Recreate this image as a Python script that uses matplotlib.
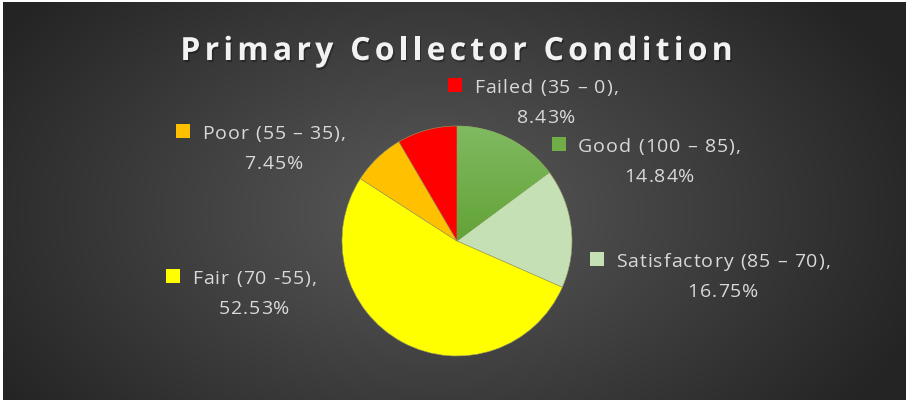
import numpy as np
import matplotlib
matplotlib.use("Agg")
import matplotlib.pyplot as plt
from matplotlib.patches import Rectangle
import matplotlib.patheffects as pe

# ---- data ----
categories = ["Good (100 – 85)", "Satisfactory (85 – 70)", "Fair (70 -55)",
              "Poor (55 – 35)", "Failed (35 – 0)"]
values = [14.84, 16.75, 52.53, 7.45, 8.43]
colors = ["#70AD47", "#C5E0B4", "#FFFF00", "#FFC000", "#FF0000"]
title = "Primary Collector Condition"

# label block positions: (legend square left x, first-line baseline y) in pixels
label_pos = [(552, 152), (590, 267), (166, 284), (176, 139), (448, 93)]

W, H = 909, 404
fig = plt.figure(figsize=(W / 100, H / 100), dpi=100, facecolor="white")

def fx(x):
    return x / W

def fy(y):
    return 1 - y / H

# background with radial gradient
bg = fig.add_axes([fx(3), fy(400), fx(906) - fx(3), fy(2) - fy(400)])
bg.set_axis_off()
yy, xx = np.mgrid[0:398, 0:903]
cx, cy = 430, 210
d = np.sqrt(((xx - cx) / 520.0) ** 2 + ((yy - cy) / 330.0) ** 2)
d = np.clip(d, 0, 1)
c0, c1 = np.array([0x5a, 0x5a, 0x5a]) / 255, np.array([0x24, 0x24, 0x24]) / 255
img = c0[None, None, :] * (1 - d[..., None]) + c1[None, None, :] * d[..., None]
bg.imshow(img, aspect="auto", extent=[0, 1, 0, 1])
bg.set_xlim(0, 1)
bg.set_ylim(0, 1)

# pie
cxp, cyp, r = 457, 241, 115
ax = fig.add_axes([fx(cxp - r), fy(cyp + r), 2 * r / W, 2 * r / H])
ax.set_axis_off()
wedges, _ = ax.pie(values, colors=colors, startangle=90, counterclock=False,
                   radius=1, wedgeprops=dict(edgecolor="#9a9a60", linewidth=0.4))
ax.set_aspect("auto")
# gradient on the green slice
grad = np.linspace(0, 1, 256)[:, None]
top = np.array([0x80, 0xBA, 0x62]) / 255
bot = np.array([0x62, 0xA3, 0x36]) / 255
gimg = top[None, None, :] * (1 - grad[..., None]) + bot[None, None, :] * grad[..., None]
gimg = np.repeat(gimg, 4, axis=1)
im = ax.imshow(gimg, extent=[0, 1, 0, 1], aspect="auto", zorder=wedges[0].get_zorder() + 0.1)
im.set_clip_path(wedges[0])
ax.set_xlim(-1, 1)
ax.set_ylim(-1, 1)

fig.canvas.draw()
renderer = fig.canvas.get_renderer()

def _w(s, **kw):
    t = fig.text(0, 0, s, **kw)
    w = t.get_window_extent(renderer).width
    t.remove()
    return w

def spaced_text(x, y, s, spacing, align="left", **kw):
    """draw text with extra letter spacing (pixels); returns (left, right)"""
    sp = _w("a a", **kw) - _w("aa", **kw)
    widths = [sp if ch == " " else _w(ch, **kw) for ch in s]
    total = sum(widths) + spacing * (len(s) - 1)
    x0 = x - total / 2 if align == "center" else x
    xc = x0
    for ch, w in zip(s, widths):
        if ch != " ":
            fig.text(fx(xc), fy(y), ch, ha="left", va="baseline", **kw)
        xc += w + spacing
    return x0, x0 + total

# title
spaced_text(456.5, 60, title, 4.2, align="center", color="#F2F2F2", fontsize=23,
            fontweight="bold", family="Open Sans",
            path_effects=[pe.withSimplePatchShadow(offset=(1, -1.5), shadow_rgbFace="black", alpha=0.3)])

# labels
lab_col = "#D9D9D9"
lab_kw = dict(color=lab_col, fontsize=14, family="Open Sans")
sq = 14
for cat, val, col, (lx, ly) in zip(categories, values, colors, label_pos):
    fig.patches.append(Rectangle((fx(lx), fy(ly - 1)), sq / W, sq / H,
                                 transform=fig.transFigure, facecolor=col,
                                 edgecolor="none", figure=fig))
    left, right = spaced_text(lx + sq + 12, ly, cat + ",", 1.0, **lab_kw)
    spaced_text((left + right) / 2, ly + 30, f"{val:.2f}%", 1.0, align="center", **lab_kw)

fig.savefig("out.png", dpi=100, facecolor="white")
